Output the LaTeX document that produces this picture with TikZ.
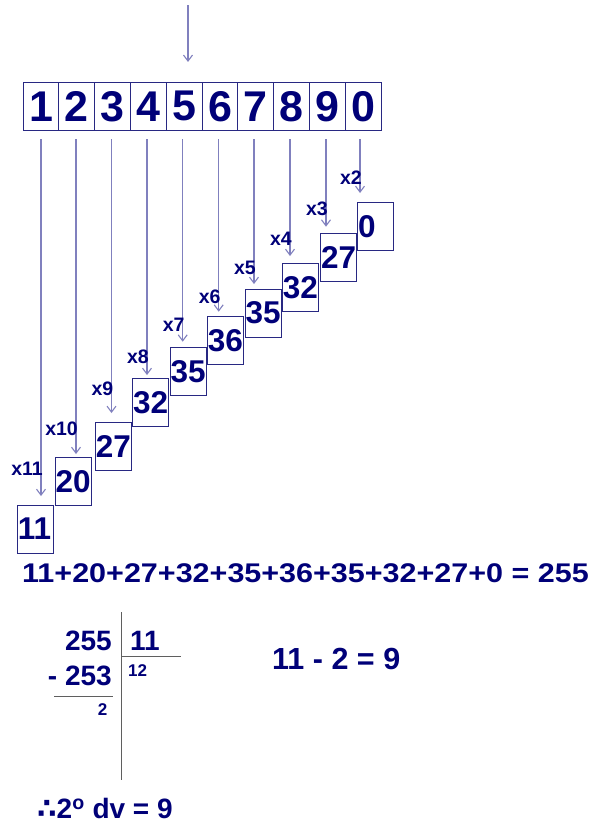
\documentclass[tikz,border=0pt]{standalone}
\usepackage{fontspec}
\setmainfont{Liberation Sans}
\newfontfamily\symfont{DejaVu Sans}
\usetikzlibrary{positioning,arrows.meta}

\definecolor{ink}{RGB}{0,0,120}
\definecolor{boxline}{RGB}{40,40,130}
\definecolor{arrowline}{RGB}{128,128,190}
\definecolor{ruleline}{RGB}{95,95,95}

\tikzset{
  digitbox/.style={draw=boxline, line width=0.9pt, outer sep=0pt, inner sep=0pt,
    minimum width=35.8pt, minimum height=47.3pt, text=ink,
    font=\fontsize{43}{43}\selectfont\bfseries},
  partbox/.style={draw=boxline, line width=0.9pt, anchor=north west, outer sep=0pt,
    minimum height=48pt, text width=35pt, inner xsep=0.5pt, inner ysep=0pt,
    align=left, text=ink, font=\fontsize{31.5}{31.5}\selectfont\bfseries},
  arr/.style={draw=arrowline, line width=1.1pt, -{Straight Barb[length=6pt,width=9pt]}},
  factor/.style={anchor=east, inner sep=0pt, text=ink,
    font=\fontsize{19.5}{19.5}\selectfont\bfseries},
  bigtext/.style={inner sep=0pt, text=ink, font=\fontsize{28}{28}\selectfont\bfseries},
  smalltext/.style={inner sep=0pt, text=ink, font=\fontsize{17}{17}\selectfont\bfseries},
  rule/.style={draw=ruleline, line width=0.9pt}
}

\begin{document}
\begin{tikzpicture}[x=1pt, y=-1pt]
  \useasboundingbox (0,0) rectangle (595,825);

  % the number being checked
  \node[digitbox] (d1) at (41,106.3) {1};
  \foreach \i/\j/\v in {2/1/2, 3/2/3, 4/3/4, 5/4/5, 6/5/6, 7/6/7, 8/7/8, 9/8/9, 10/9/0} {
    \node[digitbox, right=0pt of d\j] (d\i) {\v};
  }
  \coordinate (feed) at (188,5);
  \draw[arr, shorten >=20.7pt] (feed) -- (feed |- d5.north);

  % products, one step per digit
  \foreach \i/\val/\px/\py/\ax/\gap/\lab/\ly in {
      1/11/17.3/505/41/9/x11/468.3,
      2/20/55/457.7/76/3.7/x10/428.3,
      3/27/95.3/422.3/111.5/9.3/x9/389,
      4/32/132.7/378.3/147/3.3/x8/356.7,
      5/35/170/347.3/182.7/5.6/x7/324.7,
      6/36/207.3/316.7/218.7/5/x6/296.7,
      7/35/245/289/254/5/x5/268.3,
      8/32/282.3/263.3/290/7.3/x4/238.5,
      9/27/320.7/233/326/6.3/x3/208.3,
      10/0/357.7/202.7/360/9.7/x2/177.8} {
    \node[partbox] (p\i) at (\px,\py) {\val};
    \coordinate (s\i) at (\ax,139);
    \draw[arr, shorten >=\gap pt] (s\i) -- (s\i |- p\i.north);
    \node[factor] (f\i) at (\ax+2,\ly) {\lab};
  }

  \node[bigtext, anchor=base west, font=\fontsize{27}{27}\selectfont\bfseries] (sum) at (22,582.7)
    {\scalebox{1.13}[1]{11+20+27+32+35+36+35+32+27+0 = 255}};

  % division by 11
  \draw[rule] (121,612) -- (121,780);
  \draw[rule] (121,656) -- (181,656);
  \draw[rule] (54,696.7) -- (113,696.7);
  \node[bigtext, anchor=base east] (dividend) at (112,650) {255};
  \node[bigtext, anchor=base east] (product) at (112,685) {- 253};
  \node[bigtext, anchor=base west] (divisor) at (130,650) {11};
  \node[smalltext, anchor=base west] (quotient) at (128,676) {12};
  \node[smalltext, anchor=base east] (remainder) at (107.5,715.5) {2};

  \node[bigtext, anchor=base west, font=\fontsize{30.5}{30.5}\selectfont\bfseries] (check) at (272,669.3) {11 - 2 = 9};
  \node[bigtext, anchor=base west] (result) at (37,818.5)
    {{\symfont\bfseries ∴}2\textsuperscript{o} dv = 9};
\end{tikzpicture}
\end{document}
